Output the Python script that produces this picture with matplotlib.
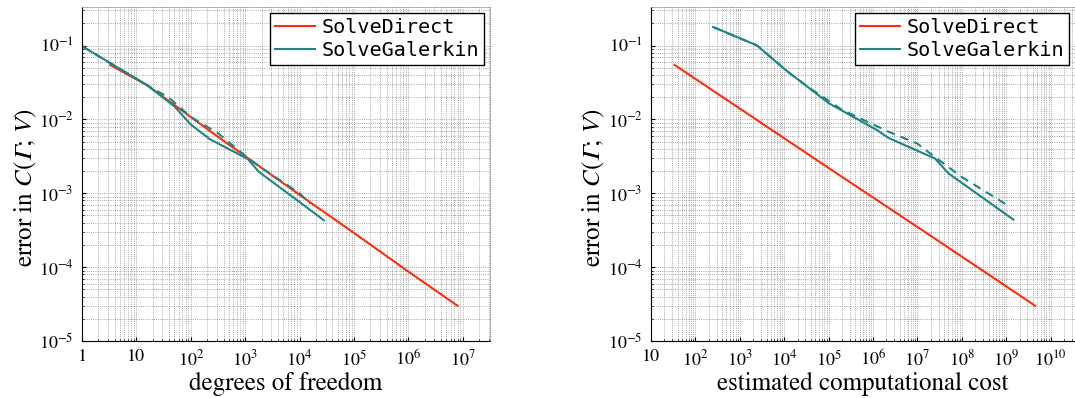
import numpy as np
import matplotlib
matplotlib.use('Agg')
import matplotlib.pyplot as plt
from matplotlib.ticker import FixedLocator, LogLocator, NullFormatter

plt.rcParams['font.family'] = ['STIXGeneral', 'DejaVu Serif']
plt.rcParams['mathtext.fontset'] = 'stix'

red = '#ff2d0a'
teal = '#1e8585'

# left panel: error vs degrees of freedom
direct_dofs = [3.3, 15.5, 350, 1e4, 1e5, 1e6, 8e6]
direct_err = [0.0545, 0.0292, 0.0055, 0.00095, 0.00029, 8.7e-5, 3.0e-5]

gal_dofs = [1, 15.5, 50, 100, 224, 1120, 1780, 1e4, 2.8e4]
gal_err = [0.098, 0.0292, 0.0150, 0.0085, 0.0054, 0.0029, 0.00195, 0.00076, 0.00043]

gal_dash_dofs = [1, 15.5, 40, 100, 316, 1120, 2000, 1e4, 1.55e4]
gal_dash_err = [0.098, 0.0292, 0.0195, 0.0108, 0.0065, 0.0030, 0.0022, 0.0010, 0.00072]

# right panel: error vs estimated cost
direct_cost = [34, 1e3, 1e5, 1e7, 1e9, 4.5e9]
direct_cost_err = [0.0545, 0.0140, 0.0022, 3.5e-4, 5.5e-5, 3.0e-5]

gal_cost = [250, 2450, 1.12e4, 3.2e4, 1e5, 1.26e6, 2.24e6, 2.5e7, 5e7, 1.45e9]
gal_cost_err = [0.178, 0.1, 0.0457, 0.0282, 0.0166, 0.0071, 0.0056, 0.00295, 0.00186, 0.00044]

gal_dash_cost = [250, 2450, 1.12e4, 3.2e4, 2e5, 2.24e6, 1e7, 2.14e7, 1e8, 9.5e8]
gal_dash_cost_err = [0.178, 0.1, 0.0457, 0.0282, 0.0135, 0.0068, 0.0047, 0.0033, 0.00166, 0.00072]

y_ticks = [1e-5, 1e-4, 1e-3, 1e-2, 1e-1]
y_labels = ['$10^{-5}$', '$10^{-4}$', '$10^{-3}$', '$10^{-2}$', '$10^{-1}$']
x1_ticks = [10.0**k for k in range(8)]
x1_labels = ['1', '10'] + ['$10^{%d}$' % k for k in range(2, 8)]
x2_ticks = [10.0**k for k in range(1, 11)]
x2_labels = ['10'] + ['$10^{%d}$' % k for k in range(2, 11)]


def style_axes(ax, xticks, xlabels, xlim, xlabel):
    ax.set_xscale('log')
    ax.set_yscale('log')
    ax.set_xlim(*xlim)
    ax.set_ylim(1e-5, 10**-0.48)
    ax.xaxis.set_major_locator(FixedLocator(xticks))
    ax.set_xticklabels(xlabels)
    ax.yaxis.set_major_locator(FixedLocator(y_ticks))
    ax.set_yticklabels(y_labels)
    ax.xaxis.set_minor_locator(LogLocator(base=10, subs=np.arange(2, 10), numticks=30))
    ax.yaxis.set_minor_locator(LogLocator(base=10, subs=np.arange(2, 10), numticks=30))
    ax.xaxis.set_minor_formatter(NullFormatter())
    ax.yaxis.set_minor_formatter(NullFormatter())
    ax.grid(True, which='both', linestyle=(0, (1, 1.6)), color='#8a8a8a', linewidth=0.6)
    ax.tick_params(which='both', direction='in', labelsize=13, pad=6)
    ax.tick_params(which='major', length=3)
    ax.tick_params(which='minor', length=1.5)
    for s in ['top', 'right']:
        ax.spines[s].set_linestyle((0, (1, 1.6)))
        ax.spines[s].set_color('#8a8a8a')
        ax.spines[s].set_linewidth(0.6)
    ax.set_xlabel(xlabel, fontsize=18, labelpad=2)
    ax.set_ylabel('error in $C(\U0001D6E4;\\,V)$', fontsize=18, labelpad=4)
    ax.yaxis.set_label_coords(-0.105, 0.46)
    leg = ax.legend(loc='upper right', prop={'family': 'DejaVu Sans Mono', 'size': 14.5},
                    fancybox=False, edgecolor='black', framealpha=1,
                    borderaxespad=0.3, handlelength=2.0, handletextpad=0.3,
                    borderpad=0.25, labelspacing=0.2)
    leg.get_frame().set_linewidth(1.0)


fig = plt.figure(figsize=(10.75, 3.98), dpi=100)
ax1 = fig.add_axes([0.0763, 0.1432, 0.3795, 0.839])
ax2 = fig.add_axes([0.6056, 0.1432, 0.3944, 0.839])

ax1.plot(direct_dofs, direct_err, color=red, lw=1.5, label='SolveDirect')
ax1.plot(gal_dofs, gal_err, color=teal, lw=1.5, label='SolveGalerkin')
ax1.plot(gal_dash_dofs, gal_dash_err, color=teal, lw=1.5, ls=(0, (4, 3)))
style_axes(ax1, x1_ticks, x1_labels, (1, 10**7.5), 'degrees of freedom')

ax2.plot(direct_cost, direct_cost_err, color=red, lw=1.5, label='SolveDirect')
ax2.plot(gal_cost, gal_cost_err, color=teal, lw=1.5, label='SolveGalerkin')
ax2.plot(gal_dash_cost, gal_dash_cost_err, color=teal, lw=1.5, ls=(0, (4, 3)))
style_axes(ax2, x2_ticks, x2_labels, (10, 10**10.55), 'estimated computational cost')

fig.savefig('out.png', dpi=100)
